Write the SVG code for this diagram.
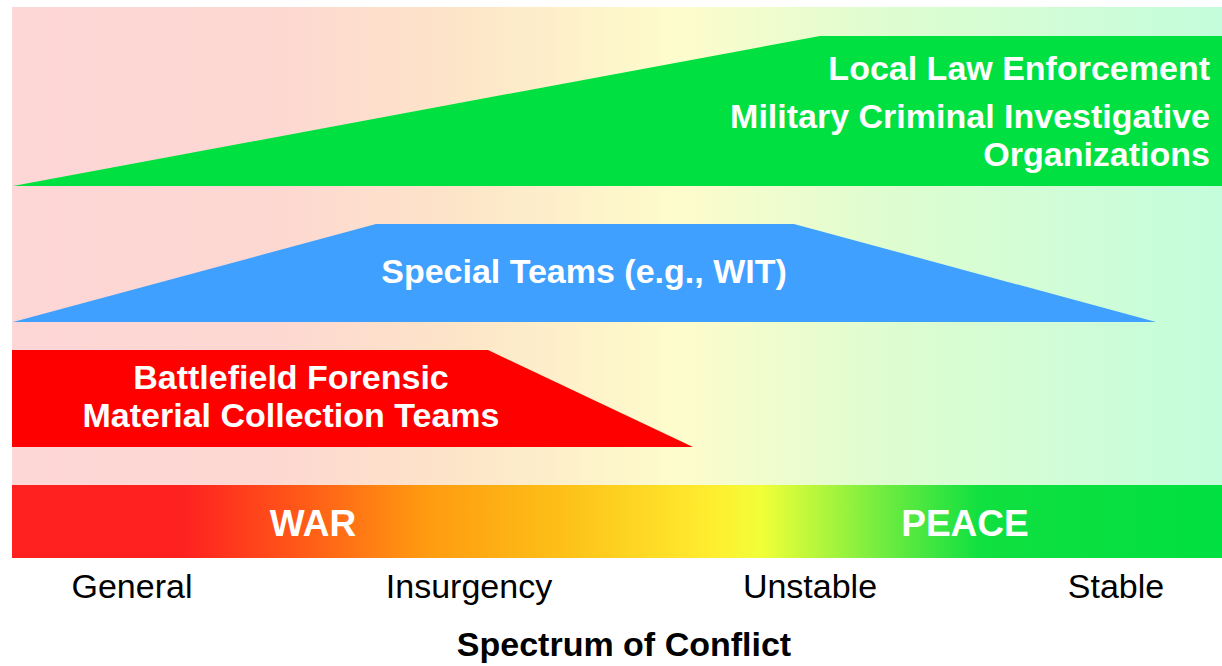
<svg xmlns="http://www.w3.org/2000/svg" width="1222" height="666" viewBox="0 0 1222 666">
<defs>
<linearGradient id="bg" x1="12" y1="0" x2="1222" y2="0" gradientUnits="userSpaceOnUse">
<stop offset="0" stop-color="#fdd6d6"/>
<stop offset="0.22" stop-color="#fdd8d2"/>
<stop offset="0.36" stop-color="#fde4c8"/>
<stop offset="0.55" stop-color="#fefccc"/>
<stop offset="0.72" stop-color="#defdd0"/>
<stop offset="1" stop-color="#c4fddc"/>
</linearGradient>
<linearGradient id="bar" x1="12" y1="0" x2="1222" y2="0" gradientUnits="userSpaceOnUse">
<stop offset="0" stop-color="#ff2020"/>
<stop offset="0.14" stop-color="#ff2020"/>
<stop offset="0.24" stop-color="#ff5a18"/>
<stop offset="0.34" stop-color="#ff9a10"/>
<stop offset="0.46" stop-color="#fdc218"/>
<stop offset="0.58" stop-color="#ffee30"/>
<stop offset="0.62" stop-color="#f0ff38"/>
<stop offset="0.72" stop-color="#70ec40"/>
<stop offset="0.8" stop-color="#10e040"/>
<stop offset="1" stop-color="#00e040"/>
</linearGradient>
</defs>
<style>
.w{fill:#ffffff;font-family:"Liberation Sans",Arial,sans-serif;font-weight:bold;font-size:34px}
.b{font-size:37px}
.k{fill:#000000;font-family:"Liberation Sans",Arial,sans-serif;font-size:34px}
</style>
<rect x="0" y="0" width="1222" height="666" fill="#ffffff"/>
<rect x="12" y="7" width="1210" height="478" fill="url(#bg)"/>
<g id="law">
<polygon points="13,186 820,36 1222,36 1222,186" fill="#00e040"/>
<text class="w" text-anchor="end" x="1210" y="80">Local Law Enforcement</text>
<text class="w" text-anchor="end" x="1210" y="128">Military Criminal Investigative</text>
<text class="w" text-anchor="end" x="1210" y="166">Organizations</text>
</g>
<g id="special">
<polygon points="13,322 376,224 794,224 1156,322" fill="#40a0ff"/>
<text class="w" text-anchor="middle" x="584" y="283">Special Teams (e.g., WIT)</text>
</g>
<g id="battlefield">
<polygon points="12,350 488,350 693,447 12,447" fill="#ff0000"/>
<text class="w" text-anchor="middle" x="291" y="389">Battlefield Forensic</text>
<text class="w" text-anchor="middle" x="291" y="427">Material Collection Teams</text>
</g>
<g id="spectrum">
<rect x="12" y="485" width="1210" height="73" fill="url(#bar)"/>
<text class="w b" text-anchor="middle" x="313" y="536">WAR</text>
<text class="w b" text-anchor="middle" x="965" y="536">PEACE</text>
</g>
<g id="labels">
<text class="k" text-anchor="middle" x="132" y="598">General</text>
<text class="k" text-anchor="middle" x="469" y="598">Insurgency</text>
<text class="k" text-anchor="middle" x="810" y="598">Unstable</text>
<text class="k" text-anchor="middle" x="1116" y="598">Stable</text>
<text class="k" font-weight="bold" text-anchor="middle" x="624" y="656">Spectrum of Conflict</text>
</g>
<g id="connectors"/>
</svg>
